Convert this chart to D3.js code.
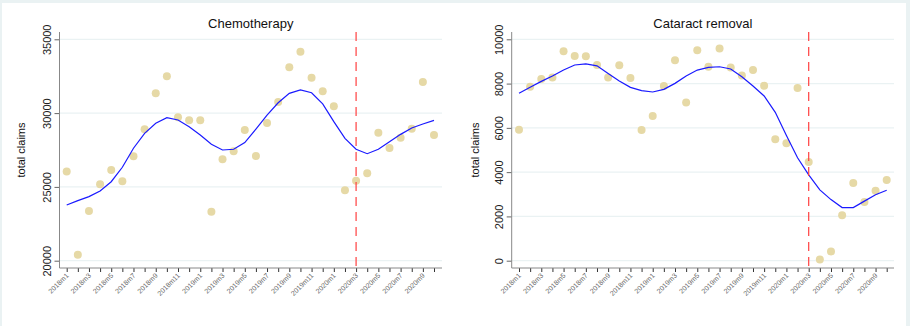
<!DOCTYPE html>
<html><head><meta charset="utf-8">
<script src="https://cdn.jsdelivr.net/npm/d3@7"></script>
<style>
html,body{margin:0;padding:0;background:#eaf2f3;}
svg{display:block;}
text{font-family:"Liberation Sans",Arial,sans-serif;}
</style></head>
<body>
<svg id="c" width="910" height="326"></svg>
<script>
const months = ["2018m1","2018m2","2018m3","2018m4","2018m5","2018m6","2018m7","2018m8","2018m9","2018m10","2018m11","2018m12",
"2019m1","2019m2","2019m3","2019m4","2019m5","2019m6","2019m7","2019m8","2019m9","2019m10","2019m11","2019m12",
"2020m1","2020m2","2020m3","2020m4","2020m5","2020m6","2020m7","2020m8","2020m9","2020m10"];
const labelledMonths = ["2018m1","2018m3","2018m5","2018m7","2018m9","2018m11","2019m1","2019m3","2019m5","2019m7","2019m9","2019m11","2020m1","2020m3","2020m5","2020m7","2020m9"];
const breakMonth = "2020m3";

const chemoClaims = [26050,20400,23370,25180,26150,25380,27070,28900,31340,32490,29720,29510,29510,23320,26870,27410,28860,27090,29330,30750,33100,34160,32400,31480,30460,24770,25420,25920,28670,27640,28330,28940,32110,28520];
const chemoFit = [23770,24070,24340,24720,25350,26330,27620,28630,29310,29690,29530,29080,28520,27890,27500,27550,28000,28920,29870,30700,31340,31570,31380,30620,29420,28290,27550,27250,27550,28060,28560,28990,29260,29510];
const chemoTicks = [20000,25000,30000,35000];

const cataractClaims = [5920,7860,8210,8280,9460,9250,9230,8840,8280,8830,8250,5900,6540,7890,9050,7140,9500,8760,9590,8730,8370,8610,7900,5480,5300,7800,4460,50,420,2050,3510,2650,3160,3650];
const cataractFit = [7560,7830,8100,8340,8610,8840,8890,8800,8460,8120,7830,7680,7620,7740,8010,8340,8610,8730,8760,8660,8310,7890,7440,6700,5650,4650,3880,3200,2760,2400,2400,2690,2980,3180];
const cataractTicks = [0,2000,4000,6000,8000,10000];

const svg = d3.select("#c");
svg.append("rect").attr("x",2).attr("y",3).attr("width",904).attr("height",323).attr("fill","#ffffff");

function panel(cfg){
  const g = svg.append("g");
  const x = d3.scalePoint().domain(months).range([cfg.x0, cfg.x1]).padding(0);
  const y = d3.scaleLinear().domain(cfg.domain).range([260.7, 39.3]);
  const top = 32, bottom = 268;
  // grid
  g.selectAll(".grid").data(cfg.ticks).enter().append("line")
    .attr("x1", cfg.left).attr("x2", cfg.right)
    .attr("y1", d=>y(d)).attr("y2", d=>y(d))
    .attr("stroke","#eaf2f3").attr("stroke-width",1.2);
  // title
  g.append("text").attr("x",(cfg.left+cfg.right)/2).attr("y",27.5)
    .attr("text-anchor","middle").attr("font-size",13).attr("fill","#111").text(cfg.title);
  // y axis label
  g.append("text").attr("transform",`translate(${cfg.ylabX},150) rotate(-90)`)
    .attr("text-anchor","middle").attr("font-size",11).attr("fill","#111").text("total claims");
  // y axis
  const ya = g.append("g").attr("transform",`translate(${cfg.left},0)`)
    .call(d3.axisLeft(y).tickValues(cfg.ticks).tickSize(5).tickSizeOuter(0).tickFormat(d3.format("d")));
  ya.select(".domain").remove();
  ya.selectAll(".tick line").attr("stroke","#666");
  ya.selectAll(".tick text").attr("font-size",11).attr("fill","#222")
    .attr("x",0).attr("dy",0)
    .attr("transform","translate(-9,0) rotate(-90)")
    .attr("text-anchor","middle");
  g.append("line").attr("x1",cfg.left).attr("x2",cfg.left).attr("y1",top).attr("y2",bottom)
    .attr("stroke","#888").attr("stroke-width",1);
  // x axis
  const xa = g.append("g").attr("transform",`translate(0,${bottom})`)
    .call(d3.axisBottom(x).tickSize(4).tickSizeOuter(0)
      .tickFormat(d => labelledMonths.includes(d) ? d : ""));
  xa.select(".domain").remove();
  xa.selectAll(".tick line").attr("stroke","#333");
  xa.selectAll(".tick text").attr("font-size",7).attr("fill","#666")
    .attr("text-anchor","end").attr("dy",0).attr("y",0)
    .attr("transform","translate(2,8) rotate(-45)");
  g.append("line").attr("x1",cfg.left).attr("x2",cfg.right).attr("y1",bottom).attr("y2",bottom)
    .attr("stroke","#888").attr("stroke-width",1);
  // dots
  g.selectAll(".dot").data(cfg.claims).enter().append("circle")
    .attr("cx",(d,i)=>x(months[i])).attr("cy",d=>y(d)).attr("r",4)
    .attr("fill","#e6d9a6");
  // fit line
  g.append("path").datum(cfg.fit)
    .attr("d", d3.line().x((d,i)=>x(months[i])).y(d=>y(d)))
    .attr("fill","none").attr("stroke","#1a1aff").attr("stroke-width",1.2);
  // break line
  g.append("line").attr("x1",x(breakMonth)).attr("x2",x(breakMonth)).attr("y1",top).attr("y2",bottom)
    .attr("stroke","#ff4040").attr("stroke-width",1.2).attr("stroke-dasharray","9,6");
}

panel({title:"Chemotherapy", x0:66.7, x1:434, left:59.5, right:442, ylabX:25,
  domain:[20000,35000], ticks:chemoTicks, claims:chemoClaims, fit:chemoFit});
panel({title:"Cataract removal", x0:519, x1:886.7, left:511.7, right:894, ylabX:479,
  domain:[0,10000], ticks:cataractTicks, claims:cataractClaims, fit:cataractFit});
</script>
</body></html>
